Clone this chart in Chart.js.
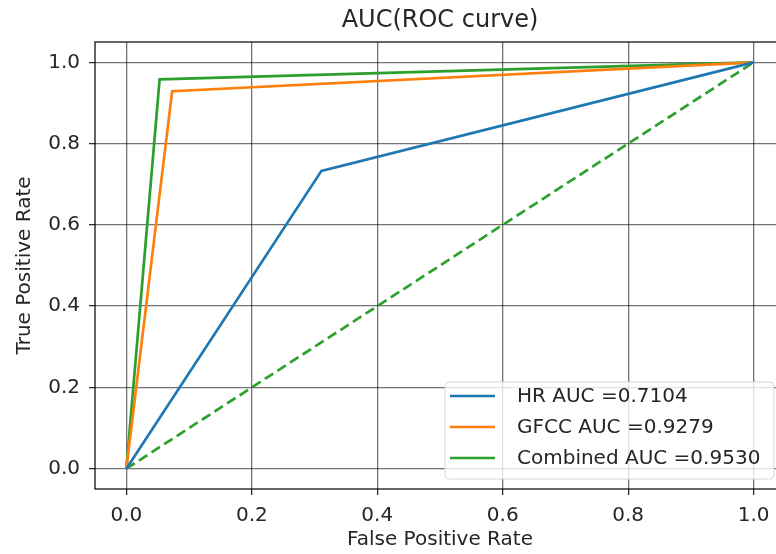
<!DOCTYPE html>
<html>
<head>
<meta charset="utf-8">
<script src="https://cdn.jsdelivr.net/npm/chart.js@4"></script>
<style>
  html, body { margin: 0; padding: 0; background: #fff; overflow: hidden; }
  #wrap { width: 790px; height: 554px; }
</style>
</head>
<body>
<div id="wrap"><canvas id="roc-chart" width="790" height="554"></canvas></div>
<script>
  // ROC points
  var hrFpr = [0, 0.311, 1];
  var hrTpr = [0, 0.733, 1];
  var gfccFpr = [0, 0.073, 1];
  var gfccTpr = [0, 0.929, 1];
  var combFpr = [0, 0.053, 1];
  var combTpr = [0, 0.958, 1];
  var chanceFpr = [0, 1];
  var chanceTpr = [0, 1];

  var chartTitle = 'AUC(ROC curve)';
  var seriesLabels = ['HR AUC =0.7104', 'GFCC AUC =0.9279', 'Combined AUC =0.9530'];
  var tickValues = [0, 0.2, 0.4, 0.6, 0.8, 1.0];

  var FONT = 'DejaVu Sans';
  var TEXT = '#262626';

  function toPoints(xs, ys) {
    return xs.map(function(x, i) { return { x: x, y: ys[i] }; });
  }

  function lineSet(label, xs, ys, color, dash) {
    return {
      label: label,
      data: toPoints(xs, ys),
      borderColor: color,
      backgroundColor: color,
      borderWidth: 2.7,
      borderDash: dash || [],
      pointRadius: 0,
      fill: false,
      tension: 0
    };
  }

  /// PLUGINS ///

  // box around the plot (matplotlib spines) and title centred over the plot
  var framePlugin = {
    id: 'frame',
    afterDatasetsDraw: function(chart) {
      var a = chart.chartArea, ctx = chart.ctx;
      ctx.save();
      ctx.strokeStyle = '#000';
      ctx.lineWidth = 1.2;
      ctx.strokeRect(a.left, a.top, a.right - a.left, a.bottom - a.top);

      ctx.fillStyle = TEXT;
      ctx.font = '24px "' + FONT + '"';
      ctx.textAlign = 'center';
      ctx.textBaseline = 'middle';
      ctx.fillText(chartTitle, (a.left + a.right) / 2, 21);
      ctx.restore();
    }
  };

  // legend box in the lower right corner
  var boxLegend = {
    id: 'boxLegend',
    afterDraw: function(chart) {
      var ctx = chart.ctx;
      var x0 = 445, y0 = 382, w = 329, h = 97, r = 4;
      ctx.save();
      ctx.beginPath();
      ctx.moveTo(x0 + r, y0);
      ctx.arcTo(x0 + w, y0, x0 + w, y0 + h, r);
      ctx.arcTo(x0 + w, y0 + h, x0, y0 + h, r);
      ctx.arcTo(x0, y0 + h, x0, y0, r);
      ctx.arcTo(x0, y0, x0 + w, y0, r);
      ctx.closePath();
      ctx.fillStyle = 'rgba(255,255,255,0.8)';
      ctx.fill();
      ctx.strokeStyle = '#d6d6d6';
      ctx.lineWidth = 1;
      ctx.stroke();

      ctx.font = '20px "' + FONT + '"';
      ctx.textBaseline = 'middle';
      ctx.textAlign = 'left';
      var rows = [396, 427, 458];
      seriesLabels.forEach(function(lbl, i) {
        var ds = chart.data.datasets[i];
        ctx.beginPath();
        ctx.strokeStyle = ds.borderColor;
        ctx.lineWidth = 2.7;
        ctx.moveTo(450, rows[i]);
        ctx.lineTo(495, rows[i]);
        ctx.stroke();
        ctx.fillStyle = TEXT;
        ctx.fillText(lbl, 517, rows[i] + 1);
      });
      ctx.restore();
    }
  };

  /// CHART ///

  var gridOpts = {
    color: 'rgba(0,0,0,0.55)',
    lineWidth: 1.3,
    drawTicks: true,
    tickLength: 6,
    tickColor: '#222',
    tickWidth: 1.2
  };

  var ctx = document.getElementById('roc-chart').getContext('2d');
  var rocChart = new Chart(ctx, {
    type: 'line',
    data: {
      datasets: [
        lineSet(seriesLabels[0], hrFpr, hrTpr, '#1f77b4'),
        lineSet(seriesLabels[1], gfccFpr, gfccTpr, '#ff7f0e'),
        lineSet(seriesLabels[2], combFpr, combTpr, '#2ca02c'),
        lineSet('chance', chanceFpr, chanceTpr, '#2ca02c', [10, 5])
      ]
    },
    options: {
      responsive: false,
      animation: false,
      layout: { padding: { left: 0, right: 5, top: 42, bottom: 0 } },
      plugins: {
        legend: { display: false },
        tooltip: { enabled: false },
        title: { display: false }
      },
      scales: {
        x: {
          type: 'linear',
          min: -0.05,
          max: 1.05,
          grid: gridOpts,
          border: { display: false },
          afterFit: function(scale) { scale.height = 65; },
          afterBuildTicks: function(scale) {
            scale.ticks = tickValues.map(function(v) { return { value: v }; });
          },
          ticks: {
            color: TEXT,
            font: { family: FONT, size: 20 },
            padding: 9,
            maxRotation: 0,
            callback: function(v) { return Number(v).toFixed(1); }
          },
          title: {
            display: true,
            text: 'False Positive Rate',
            color: TEXT,
            font: { family: FONT, size: 20 },
            padding: { top: 0, bottom: 2 }
          }
        },
        y: {
          type: 'linear',
          min: -0.05,
          max: 1.05,
          grid: gridOpts,
          border: { display: false },
          afterFit: function(scale) { scale.width = 95; },
          afterBuildTicks: function(scale) {
            scale.ticks = tickValues.map(function(v) { return { value: v }; });
          },
          ticks: {
            color: TEXT,
            font: { family: FONT, size: 20 },
            padding: 9,
            callback: function(v) { return Number(v).toFixed(1); }
          },
          title: {
            display: true,
            text: 'True Positive Rate',
            color: TEXT,
            font: { family: FONT, size: 20 },
            padding: { top: 13, bottom: 0 }
          }
        }
      }
    },
    plugins: [framePlugin, boxLegend]
  });
</script>
</body>
</html>
